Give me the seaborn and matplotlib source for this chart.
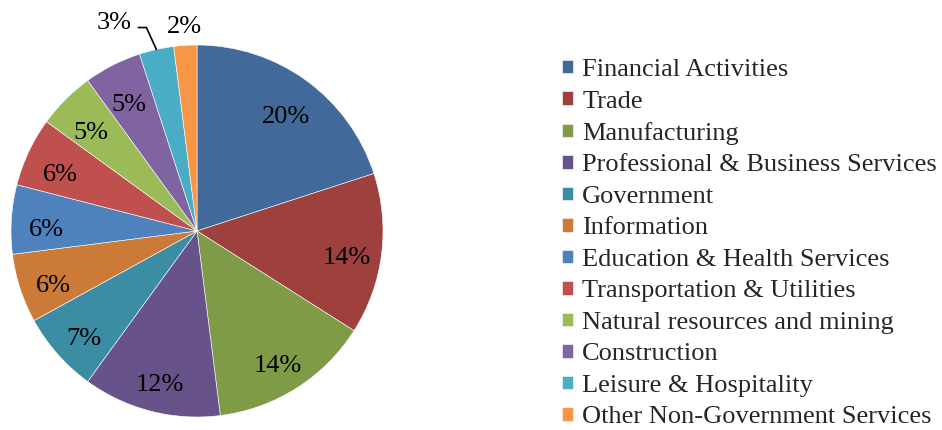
import matplotlib.pyplot as plt
import numpy as np
import seaborn as sns

# sector shares (%), clockwise from 12 o'clock
sectors = ['Financial Activities', 'Trade', 'Manufacturing',
           'Professional & Business Services', 'Government', 'Information',
           'Education & Health Services', 'Transportation & Utilities',
           'Natural resources and mining', 'Construction',
           'Leisure & Hospitality', 'Other Non-Government Services']
shares = [20, 14, 14, 12, 7, 6, 6, 6, 5, 5, 3, 2]
colors = ['#41699A', '#9E413E', '#7F9B48', '#67528A', '#3B8DA4', '#CC7A38',
          '#4F81BD', '#C0504D', '#9BBB59', '#8064A2', '#4BACC6', '#F79646']

sns.set_style('white')
plt.rcParams['font.family'] = ['Liberation Serif', 'DejaVu Serif']
pal = sns.color_palette(colors)

fig = plt.figure(figsize=(9.42, 4.30), dpi=100)
ax = fig.add_axes([11 / 942, 13 / 430, 372 / 942, 372 / 430])

wedges, texts, autotexts = ax.pie(
    shares, colors=pal, startangle=90, counterclock=False, radius=1,
    autopct='%1.0f%%', pctdistance=0.81,
    wedgeprops=dict(edgecolor='white', linewidth=0.4),
    textprops=dict(fontsize=19, color='black'))
for t in autotexts:
    t.set_va('center_baseline')
    x, y = t.get_position()
    t.set_position((x, y - 0.03))
ax.set_xlim(-1, 1)
ax.set_ylim(-1, 1)
ax.set_aspect('equal')

# small slices: labels outside the pie
mid = lambda w: np.deg2rad((w.theta1 + w.theta2) / 2)
a2 = mid(wedges[-1])
autotexts[-1].set_position((1.11 * np.cos(a2), 1.11 * np.sin(a2)))
a3 = mid(wedges[-2])
autotexts[-2].set_position((-0.35, 1.13))
autotexts[-2].set_ha('right')
# leader line for 3%
ex, ey = np.cos(a3), np.sin(a3)
ax.plot([ex - 0.097, ex - 0.054, ex], [ey + 0.118, ey + 0.118, ey],
        color='black', lw=1.2, clip_on=False, solid_joinstyle='miter')

fig.legend(wedges, sectors, loc='upper left', bbox_to_anchor=(562 / 942, 1 - 59 / 430),
           frameon=False, fontsize=19, handlelength=0.42, handleheight=0.42,
           handletextpad=0.35, labelspacing=0.36, borderaxespad=0,
           borderpad=0)

fig.savefig('out.png', dpi=100)
